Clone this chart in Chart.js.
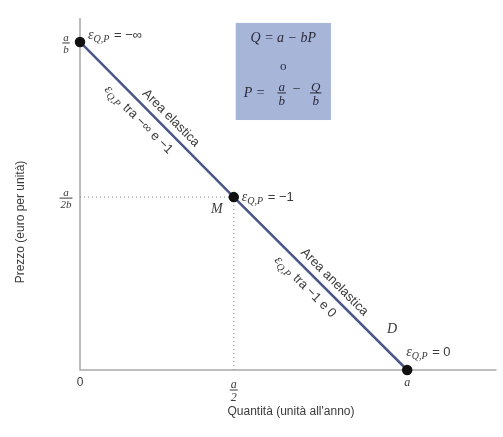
<!DOCTYPE html>
<html>
<head>
<meta charset="utf-8">
<script src="https://cdn.jsdelivr.net/npm/chart.js@4.4.1/dist/chart.umd.min.js"></script>
<style>
  body { margin: 0; background: #fff; }
  #wrap { width: 503px; height: 437px; }
</style>
</head>
<body>
<div id="wrap"><canvas id="demandChart"></canvas></div>
<script>
// demand curve (Q in units of a, P in units of a/b)
const demandQ = [0, 0.470, 1];
const demandP = [1, 0.527, 0];
// axis ticks
const xTickValues = [0, 0.470, 1];
const xTickLabels = [['0'], ['a', '2'], ['a']];
const yTickValues = [1, 0.527];
const yTickLabels = [['a', 'b'], ['a', '2b']];
const xTitle = 'Quantità (unità all\'anno)';
const yTitle = 'Prezzo (euro per unità)';

const lineColor = '#4a5788';
const axisColor = '#a8a8a8';
const textColor = '#3a3a3a';
const sans = '"Liberation Sans", Arial, sans-serif';
const serif = '"Liberation Serif", "DejaVu Serif", serif';

function drawFraction(ctx, x, y, num, den, size) {
    ctx.save();
    ctx.font = 'italic ' + size + 'px ' + serif;
    ctx.textAlign = 'center';
    ctx.textBaseline = 'alphabetic';
    const w = Math.max(ctx.measureText(num).width, ctx.measureText(den).width) + 2;
    ctx.fillText(num, x, y - 2);
    ctx.fillRect(x - w / 2, y - 0.5, w, 1);
    ctx.fillText(den, x, y + size - 1);
    ctx.restore();
}

// ε with subscript Q,P followed by text
function drawEps(ctx, x, y, tail) {
    ctx.save();
    ctx.textBaseline = 'alphabetic';
    ctx.textAlign = 'left';
    ctx.font = 'italic 14px ' + serif;
    ctx.fillText('ε', x, y);
    x += ctx.measureText('ε').width;
    ctx.font = 'italic 10px ' + serif;
    ctx.fillText('Q,P', x, y + 3);
    x += ctx.measureText('Q,P').width + 1;
    ctx.font = '13px ' + sans;
    ctx.fillText(tail, x, y);
    ctx.restore();
}

const drawingPlugin = {
    id: 'demandDrawing',
    beforeDatasetsDraw: (chart) => {
        const ctx = chart.ctx;
        const xs = chart.scales.x, ys = chart.scales.y;
        const x0 = xs.getPixelForValue(0), y0 = ys.getPixelForValue(0);
        ctx.save();
        // axes
        ctx.strokeStyle = axisColor;
        ctx.lineWidth = 1.5;
        ctx.beginPath();
        ctx.moveTo(x0, ys.top);
        ctx.lineTo(x0, y0);
        ctx.lineTo(xs.right, y0);
        ctx.stroke();
        // dotted guides to M
        const mx = xs.getPixelForValue(demandQ[1]), my = ys.getPixelForValue(demandP[1]);
        ctx.strokeStyle = '#888';
        ctx.lineWidth = 1;
        ctx.setLineDash([1, 3]);
        ctx.beginPath();
        ctx.moveTo(x0, my); ctx.lineTo(mx, my);
        ctx.moveTo(mx, my); ctx.lineTo(mx, y0);
        ctx.stroke();
        ctx.setLineDash([]);
        ctx.restore();
    },
    afterDatasetsDraw: (chart) => {
        const ctx = chart.ctx;
        const xs = chart.scales.x, ys = chart.scales.y;
        const px = v => xs.getPixelForValue(v), py = v => ys.getPixelForValue(v);
        const x0 = px(0), y0 = py(0);
        ctx.save();
        ctx.fillStyle = textColor;

        // x tick labels
        xTickValues.forEach((v, i) => {
            const lab = xTickLabels[i];
            if (lab.length === 2) {
                drawFraction(ctx, px(v), y0 + 20, lab[0], lab[1], 12);
            } else {
                ctx.font = lab[0] === '0' ? '12px ' + sans : 'italic 12px ' + serif;
                ctx.textAlign = 'center';
                ctx.textBaseline = 'middle';
                ctx.fillText(lab[0], px(v), y0 + 13);
            }
        });
        // y tick labels
        yTickValues.forEach((v, i) => {
            const lab = yTickLabels[i];
            drawFraction(ctx, x0 - 14, py(v) + 1, lab[0], lab[1], 11);
        });

        // axis titles
        ctx.font = '12px ' + sans;
        ctx.textAlign = 'center';
        ctx.textBaseline = 'middle';
        ctx.fillText(xTitle, 291, y0 + 42);
        ctx.save();
        ctx.translate(21, 222);
        ctx.rotate(-Math.PI / 2);
        ctx.fillText(yTitle, 0, 0);
        ctx.restore();

        // equation box
        const bx1 = px(0.476), bx2 = px(0.767), by1 = py(1.058), by2 = py(0.762);
        ctx.fillStyle = '#a7b5d9';
        ctx.fillRect(bx1, by1, bx2 - bx1, by2 - by1);
        ctx.fillStyle = '#2a2a3a';
        const cx = (bx1 + bx2) / 2;
        ctx.font = 'italic 14px ' + serif;
        ctx.textAlign = 'center';
        ctx.textBaseline = 'alphabetic';
        ctx.fillText('Q = a − bP', cx, by1 + 19);
        ctx.font = '13px ' + serif;
        ctx.fillText('o', cx, by1 + 47);
        ctx.font = 'italic 14px ' + serif;
        ctx.textAlign = 'left';
        const ey = by1 + 74;
        ctx.fillText('P =', bx1 + 8, ey);
        drawFraction(ctx, bx1 + 46, ey - 4, 'a', 'b', 13);
        ctx.font = '14px ' + serif;
        ctx.fillText('−', bx1 + 57, ey - 4);
        drawFraction(ctx, bx1 + 80, ey - 4, 'Q', 'b', 13);

        // elasticity labels
        ctx.fillStyle = textColor;
        drawEps(ctx, px(0) + 8, py(1) - 3, ' = −∞');
        drawEps(ctx, px(demandQ[1]) + 8, py(demandP[1]) + 4, ' = −1');
        drawEps(ctx, px(1) - 1, py(0) - 14, ' = 0');

        ctx.font = 'italic 14px ' + serif;
        ctx.textAlign = 'center';
        ctx.fillText('M', px(demandQ[1]) - 17, py(demandP[1]) + 16);
        ctx.fillText('D', px(1) - 15, py(0) - 37);

        // labels along the line
        const ang = Math.atan2(py(0) - py(1), px(1) - px(0));
        const along = (q, p, off, draw) => {
            ctx.save();
            ctx.translate(px(q), py(p));
            ctx.rotate(ang);
            ctx.translate(0, off);
            draw();
            ctx.restore();
        };
        ctx.font = '13px ' + sans;
        along(0.255, 0.745, -7, () => { ctx.textAlign = 'center'; ctx.fillText('Area elastica', 0, 0); });
        along(0.755, 0.245, -7, () => { ctx.textAlign = 'center'; ctx.fillText('Area anelastica', 0, 0); });
        along(0.11, 0.89, 17, () => { drawEps(ctx, 0, 0, ' tra −∞ e −1'); });
        along(0.63, 0.37, 17, () => { drawEps(ctx, 0, 0, ' tra −1 e 0'); });
        ctx.restore();
    }
};

new Chart(document.getElementById('demandChart').getContext('2d'), {
    type: 'scatter',
    plugins: [drawingPlugin],
    data: {
        datasets: [{
            data: demandQ.map((q, i) => ({ x: q, y: demandP[i] })),
            showLine: true,
            clip: false,
            borderColor: lineColor,
            borderWidth: 2.5,
            pointRadius: 4,
            pointBackgroundColor: '#111',
            pointBorderColor: '#111'
        }]
    },
    options: {
        responsive: true,
        maintainAspectRatio: false,
        animation: false,
        layout: { padding: { left: 80, right: 3, top: 18, bottom: 67 } },
        plugins: { legend: { display: false }, tooltip: { enabled: false } },
        scales: {
            x: { type: 'linear', display: false, min: 0, max: 1.273 },
            y: { type: 'linear', display: false, min: 0, max: 1.073 }
        }
    }
});
</script>
</body>
</html>
